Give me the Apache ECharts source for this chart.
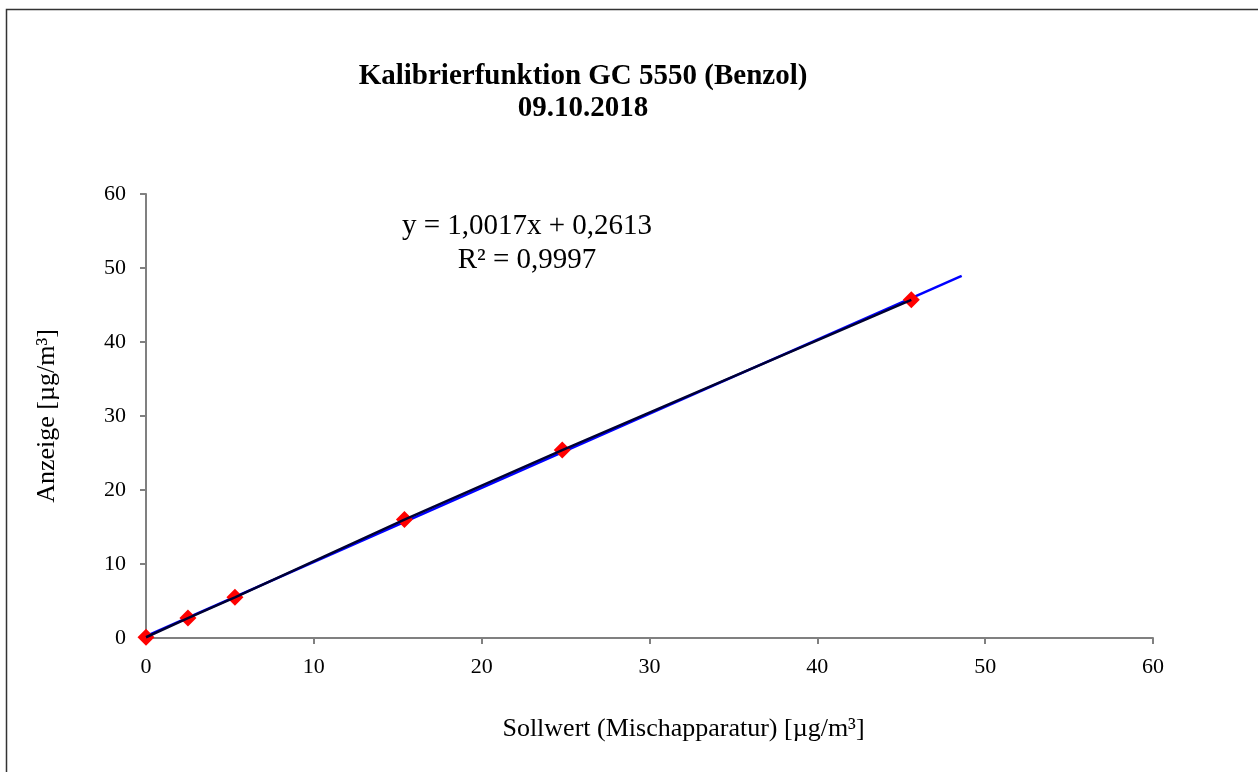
<!DOCTYPE html>
<html>
<head>
<meta charset="utf-8">
<script src="https://cdn.jsdelivr.net/npm/echarts@6/dist/echarts.min.js"></script>
<style>
html,body{margin:0;padding:0;background:#fff;}
#chart{width:1258px;height:772px;}
</style>
</head>
<body>
<div id="chart"></div>
<script>
// Data
const sollwert = [0, 2.5, 5.3, 15.4, 24.8, 45.6];
const anzeige  = [0.1, 2.7, 5.5, 16.0, 25.4, 45.7];
const trendX = [0, 48.6];
const trendY = [0.26, 48.94];
const xTicks = [0, 10, 20, 30, 40, 50, 60];
const yTicks = [0, 10, 20, 30, 40, 50, 60];
const titleLines = ['Kalibrierfunktion GC 5550 (Benzol)', '09.10.2018'];
const equationLines = ['y = 1,0017x + 0,2613', 'R² = 0,9997'];
const xName = 'Sollwert (Mischapparatur) [µg/m³]';
const yName = 'Anzeige [µg/m³]';

const pts = sollwert.map((x, i) => [x, anzeige[i]]);
const trend = trendX.map((x, i) => [x, trendY[i]]);
const font = 'Liberation Serif';

const chart = echarts.init(document.getElementById('chart'));
chart.setOption({
  animation: false,
  backgroundColor: '#fff',
  title: {
    text: titleLines.join('\n'),
    left: 578, top: 56, textAlign: 'center',
    textStyle: { fontFamily: font, fontWeight: 'bold', fontSize: 29, color: '#000', lineHeight: 32 }
  },
  graphic: [
    { type: 'rect', shape: { x: 6.5, y: 9.5, width: 1300, height: 800 }, style: { fill: null, stroke: '#333', lineWidth: 1.5 }, silent: true, z: 0 },
    { type: 'text', x: 527, y: 209, style: { text: equationLines.join('\n'), font: '29px "Liberation Serif"', fill: '#000', align: 'center', lineHeight: 34 } }
  ],
  grid: { left: 146, right: 105, top: 194, bottom: 134, show: false },
  xAxis: {
    type: 'value', min: 0, max: 60, interval: 10,
    name: xName, nameLocation: 'middle', nameGap: 78,
    nameTextStyle: { fontFamily: font, fontSize: 26, color: '#000', padding: [0, 0, 0, 68] },
    axisLine: { show: true, onZero: false, lineStyle: { color: '#808080', width: 2 } },
    axisTick: { show: true, inside: false, length: 6, lineStyle: { color: '#808080', width: 2 } },
    axisLabel: { fontFamily: font, fontSize: 22, color: '#000', margin: 18,
      formatter: v => xTicks.includes(v) ? String(v) : '' },
    splitLine: { show: false }
  },
  yAxis: {
    type: 'value', min: 0, max: 60, interval: 10,
    name: yName, nameLocation: 'middle', nameGap: 86, nameRotate: 90,
    nameTextStyle: { fontFamily: font, fontSize: 26, color: '#000' },
    axisLine: { show: true, onZero: false, lineStyle: { color: '#808080', width: 2 } },
    axisTick: { show: true, inside: false, length: 6, lineStyle: { color: '#808080', width: 2 } },
    axisLabel: { fontFamily: font, fontSize: 22, color: '#000', margin: 20,
      formatter: v => yTicks.includes(v) ? String(v) : '' },
    splitLine: { show: false }
  },
  series: [
    { type: 'line', data: trend, showSymbol: false, symbol: 'none', z: 2,
      lineStyle: { color: '#0000ff', width: 2.5 } },
    { type: 'scatter', data: pts, symbol: 'diamond', symbolSize: 17, z: 3,
      itemStyle: { color: '#ff0000', opacity: 1 } },
    { type: 'line', data: pts, showSymbol: false, symbol: 'none', z: 4,
      lineStyle: { color: '#000033', width: 2.5 } }
  ]
});
</script>
</body>
</html>
